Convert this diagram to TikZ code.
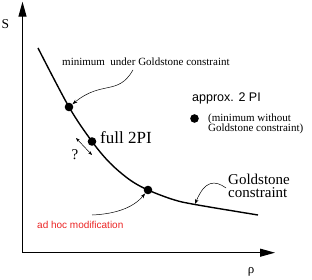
\documentclass[tikz,border=0pt]{standalone}
\usepackage{fontspec}
\setmainfont{Liberation Serif}
\setsansfont{Liberation Sans}
\usetikzlibrary{arrows.meta}
\definecolor{adhocred}{RGB}{235,35,35}
\tikzset{
  axisline/.style={line width=1.1pt, -{Triangle[length=15pt,width=8pt]}},
  curveline/.style={line width=1.4pt},
  dotnode/.style={circle, fill=black, inner sep=0pt, minimum size=8.6pt},
  thinarrow/.style={line width=0.5pt, -{Stealth[length=5pt,width=3.5pt]}},
  lbl/.style={inner sep=0pt, anchor=base west},
}
\begin{document}
\begin{tikzpicture}[x=1pt, y=-1pt]
\useasboundingbox (0,0) rectangle (312,280);
% axes
\coordinate (orig) at (22.5,252.7);
\coordinate (ytip) at (22.5,1.7);
\coordinate (xtip) at (275,252.7);
\draw[axisline] (orig) -- (ytip);
\draw[axisline] (orig) -- (xtip);
\node[font=\fontsize{13.5}{13.5}\selectfont, inner sep=0pt] (S) at (5.5,24.5) {S};
\node[font=\fontsize{13}{13}\selectfont, inner sep=0pt] (rho) at (251,272) {ρ};
% curve
\draw[curveline] plot[smooth, tension=0.55] coordinates {(38,48) (69,107) (92,141.5) (110,163) (130,180) (148,190) (173,199.5) (195,204.5) (258,215)};
% dots on curve
\node[dotnode] (d1) at (69,107) {};
\node[dotnode] (d2) at (92,141.5) {};
\node[dotnode] (d3) at (148,190) {};
% labels
\node[lbl, font=\fontsize{11}{11}\selectfont] (minlbl) at (62,65.5) {minimum\ \ under Goldstone constraint};
\node[lbl, font=\fontsize{17}{17}\selectfont] (full) at (100,143) {full 2PI};
\node[lbl, font=\fontsize{15}{15}\selectfont] (q) at (71.5,159.5) {?};
\node[lbl, font=\sffamily\fontsize{10}{10}\selectfont, text=adhocred] (adhoc) at (37,228) {ad hoc modification};
\node[lbl, font=\sffamily\fontsize{12.5}{12.5}\selectfont] (approx) at (192,102) {approx. 2 PI};
\node[dotnode] (d4) at (194.5,118.5) {};
\node[lbl, font=\fontsize{11}{10.6}\selectfont, align=left] (without) at (208,131.7) {(minimum without\\Goldstone constraint)};
\node[lbl, font=\fontsize{15}{13.5}\selectfont, align=left] (gold) at (228,197.5) {Goldstone\\constraint};
% connectors
\coordinate (w1) at (133,70);
\draw[thinarrow] (w1) .. controls (118,96) and (102,80) .. (d1);
\coordinate (w2) at (226,188);
\coordinate (w2end) at (195,204);
\draw[thinarrow] (w2) .. controls (215,180) and (205,180) .. (w2end);
\coordinate (w3) at (92,215);
\draw[thinarrow] (w3) .. controls (115,214) and (133,208) .. (d3);
\coordinate (qa) at (76,138);
\coordinate (qb) at (92,155);
\draw[line width=0.5pt, {Stealth[length=4pt,width=3pt]}-{Stealth[length=4pt,width=3pt]}] (qa) -- (qb);
\end{tikzpicture}
\end{document}
